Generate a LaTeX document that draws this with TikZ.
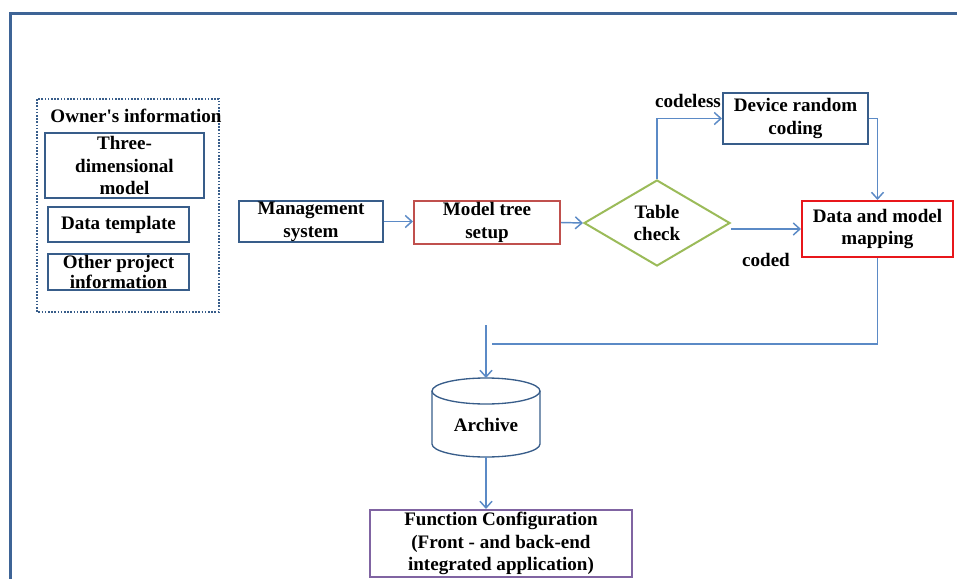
\documentclass[tikz,border=0pt]{standalone}
\usepackage{fontspec}
\setmainfont{Liberation Serif}
\usetikzlibrary{shapes.geometric,arrows.meta}
\definecolor{framecol}{HTML}{3E6496}
\definecolor{boxblue}{HTML}{385D8A}
\definecolor{linkblue}{HTML}{5B8AC6}
\definecolor{treered}{HTML}{C0504D}
\definecolor{mapred}{HTML}{E8161B}
\definecolor{checkgreen}{HTML}{9BBB59}
\definecolor{funcpurple}{HTML}{8064A2}

\begin{document}
\begin{tikzpicture}[x=0.75pt,y=-0.75pt,
  font=\fontsize{14.3}{17}\selectfont\bfseries,
  box/.style={draw=boxblue,line width=1.5pt,align=center,inner sep=0pt},
  flow/.style={draw=linkblue,line width=1.1pt,-{Straight Barb[length=5pt,width=9pt]}},
  link/.style={draw=linkblue,line width=1.1pt}]
  \useasboundingbox (0,0) rectangle (957,579);
  \draw[framecol,line width=2.25pt] (957,13) -- (10,13) -- (10,579);

  % Owner's information
  \draw[boxblue,line width=1.2pt,dash pattern=on 1.2pt off 1.2pt] (37,99) rectangle (219,312);
  \node (owner) at (136,116) {Owner\textquotesingle s information};
  \node[box,minimum width=119.25pt,minimum height=48.75pt] (three) at (124.5,165.5) {Three-\\dimensional\\model};
  \node[box,minimum width=105.75pt,minimum height=26.25pt] (tmpl) at (118.5,224.5) {Data template};
  \node[box,minimum width=105.75pt,minimum height=27pt] (other) at (118.5,272) {Other project\\[-2pt]information};

  % Main flow
  \node[box,minimum width=108pt,minimum height=30.75pt] (mgmt) at (311,221.5) {Management\\system};
  \node[box,draw=treered,minimum width=109.5pt,minimum height=32.25pt] (tree) at (487,222.5) {Model tree\\setup};
  \node[diamond,draw=checkgreen,line width=1.5pt,align=center,inner sep=0pt,
        minimum width=109.5pt,minimum height=64.5pt] (dia) at (657,223) {Table\\check};
  \node[box,minimum width=108.75pt,minimum height=38.25pt] (dev) at (795.5,118.5) {Device random\\coding};
  \node[box,draw=mapred,minimum width=113.25pt,minimum height=42pt] (map) at (877.5,229) {Data and model\\mapping};
  \node (codeless) at (688,101) {codeless};
  \node (coded) at (766,260) {coded};

  \draw[flow] (mgmt.east) -- (mgmt.east -| tree.west);
  \draw[flow] (tree.east) -- (dia.west);
  \draw[flow] (dia.north) |- (dev.west);
  \draw[flow] (dev.east) -| (map.north);
  \draw[flow] (dia.east |- map.west) -- (map.west);

  % Archive
  \coordinate (ret) at (492,344);
  \coordinate (drop) at (486,325);
  \coordinate (archtop) at (486,378);
  \coordinate (archbot) at (486,457);
  \draw[link] (map.south) |- (ret);
  \draw[boxblue,line width=1pt] (486,391) ellipse [x radius=40.5pt,y radius=9.75pt];
  \draw[boxblue,line width=1pt] (432,391) -- (432,444)
    arc[start angle=180,end angle=360,x radius=40.5pt,y radius=9.75pt] -- (540,391);
  \node (arch) at (486,425) {Archive};
  \draw[flow] (drop) -- (archtop);

  % Function configuration
  \node[box,draw=funcpurple,minimum width=196.5pt,minimum height=50.25pt] (func) at (501,543.5)
    {Function Configuration\\(Front - and back-end\\integrated application)};
  \draw[flow] (archbot) -- (archbot |- func.north);
\end{tikzpicture}
\end{document}
